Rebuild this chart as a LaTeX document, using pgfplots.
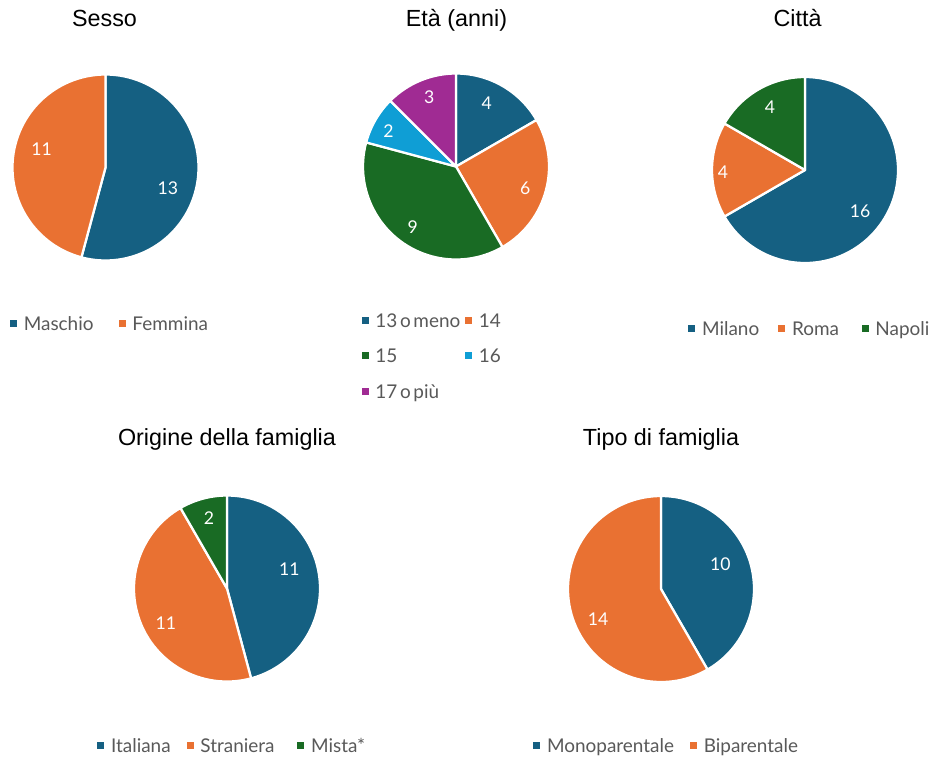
\documentclass[border=0pt]{standalone}
\usepackage{fontspec}
\setmainfont{Liberation Sans}
\newfontfamily\legfont{Lato}[WordSpace=0.55]
\usepackage{pgfplots}
\usepackage{pgfplotstable}
\pgfplotsset{compat=1.18}
\definecolor{cBlue}{HTML}{156082}
\definecolor{cOrange}{HTML}{E97132}
\definecolor{cGreen}{HTML}{196B24}
\definecolor{cLight}{HTML}{0F9ED5}
\definecolor{cPurple}{HTML}{A02B93}
\definecolor{legtext}{HTML}{595959}
\newcommand\labfont{\legfont\fontsize{13.2}{15}\selectfont}
\newcommand\legsize{\legfont\fontsize{14.2}{16}\selectfont}
\newcommand\titsize{\fontsize{17.5}{20}\selectfont}

% val = count, la/lr = label angle (deg) and radius (px), col = colour
\pgfplotstableread{
val la lr col
13 -18.2 65.5 cBlue
11 164 66.3 cOrange
}\tSesso
\pgfplotstableread{
val la lr col
4 64 70 cBlue
6 -17.5 72.4 cOrange
9 234.3 74 cGreen
2 152.3 76 cLight
3 111.2 73.8 cPurple
}\tEta
\pgfplotstableread{
val la lr col
16 -36.5 68.4 cBlue
4 181.2 81.7 cOrange
4 119.2 71.8 cGreen
}\tCitta
\pgfplotstableread{
val la lr col
11 17.2 65 cBlue
11 209.7 70.2 cOrange
2 104.4 72.5 cGreen
}\tOrigine
\pgfplotstableread{
val la lr col
10 22.7 64 cBlue
14 205.6 69.5 cOrange
}\tTipo

\newcommand\drawpie[2]{%
  \pgfplotstablegetrowsof{#1}%
  \pgfmathtruncatemacro\pielast{\pgfplotsretval-1}%
  \def\pietot{0}%
  \pgfplotsforeachungrouped \pii in {0,...,\pielast}{%
    \pgfplotstablegetelem{\pii}{val}\of#1%
    \pgfmathsetmacro\pietot{\pietot+\pgfplotsretval}}%
  \def\piecum{0}%
  \pgfmathsetmacro\pieR{#2*0.75}%
  \pgfplotsforeachungrouped \pii in {0,...,\pielast}{%
    \pgfplotstablegetelem{\pii}{val}\of#1\let\pieval\pgfplotsretval
    \pgfplotstablegetelem{\pii}{col}\of#1\let\piecol\pgfplotsretval
    \pgfmathsetmacro\pieA{90-360*\piecum/\pietot}%
    \pgfmathsetmacro\piecum{\piecum+\pieval}%
    \pgfmathsetmacro\pieB{90-360*\piecum/\pietot}%
    \edef\pietmp{%
      \noexpand\fill[\piecol, draw=white, line width=1.7pt, line join=round]
        (axis cs:0,0) -- ++(\pieA:\pieR pt) arc[start angle=\pieA, end angle=\pieB, radius=\pieR pt] -- cycle;}%
    \pietmp}%
  \pgfplotsforeachungrouped \pii in {0,...,\pielast}{%
    \pgfplotstablegetelem{\pii}{val}\of#1\let\pieval\pgfplotsretval
    \pgfplotstablegetelem{\pii}{la}\of#1\let\piela\pgfplotsretval
    \pgfplotstablegetelem{\pii}{lr}\of#1\let\pielr\pgfplotsretval
    \pgfmathsetmacro\pielx{\pielr/#2*cos(\piela)}%
    \pgfmathsetmacro\piely{\pielr/#2*sin(\piela)}%
    \edef\pietmp{%
      \noexpand\node[white, inner sep=0, font=\noexpand\labfont] at (axis cs:\pielx,\piely) {\pieval};}%
    \pietmp}%
}

\pgfplotsset{pieaxis/.style={anchor=origin, hide axis, scale only axis,
  width=140pt, height=140pt, xmin=-1, xmax=1, ymin=-1, ymax=1, clip=false}}

\newcommand\legitem[4]{%
  \fill[#3] (#1,#2-10.5) rectangle ++(7,7);
  \node[anchor=base west, inner sep=0, font=\legsize, text=legtext] at (#1+13.5,#2) {#4};
}

\begin{document}
\begin{tikzpicture}[x=0.75pt, y=-0.75pt]
\fill[white] (0,0) rectangle (941,758);

% titles
\node[anchor=base, font=\titsize] at (104.5,26.7) {Sesso};
\node[anchor=base, font=\titsize] at (456.5,26.7) {Età (anni)};
\node[anchor=base, font=\titsize] at (797.5,26.7) {Città};
\node[anchor=base, font=\titsize] at (227,445) {Origine della famiglia};
\node[anchor=base, font=\titsize] at (661,445) {Tipo di famiglia};

% pies (positions in pt: px*0.75, y downward)
\begin{axis}[pieaxis, at={({105.5*0.75pt},{-167.5*0.75pt})}]
\drawpie{\tSesso}{93}
\end{axis}
\begin{axis}[pieaxis, at={({456*0.75pt},{-166.5*0.75pt})}]
\drawpie{\tEta}{93}
\end{axis}
\begin{axis}[pieaxis, at={({805*0.75pt},{-170*0.75pt})}]
\drawpie{\tCitta}{93}
\end{axis}
\begin{axis}[pieaxis, at={({227*0.75pt},{-588.5*0.75pt})}]
\drawpie{\tOrigine}{93}
\end{axis}
\begin{axis}[pieaxis, at={({661*0.75pt},{-589*0.75pt})}]
\drawpie{\tTipo}{93}
\end{axis}

% legends
\legitem{10}{330}{cBlue}{Maschio}
\legitem{118.7}{330}{cOrange}{Femmina}

\legitem{361.7}{327}{cBlue}{13 o meno}
\legitem{465}{327}{cOrange}{14}
\legitem{361.7}{362}{cGreen}{15}
\legitem{465}{362}{cLight}{16}
\legitem{361.7}{398.5}{cPurple}{17 o più}

\legitem{688.3}{335}{cBlue}{Milano}
\legitem{778.3}{335}{cOrange}{Roma}
\legitem{861.7}{335}{cGreen}{Napoli}

\legitem{97.3}{752}{cBlue}{Italiana}
\legitem{186.7}{752}{cOrange}{Straniera}
\legitem{297.3}{752}{cGreen}{Mista*}

\legitem{533.3}{752}{cBlue}{Monoparentale}
\legitem{690}{752}{cOrange}{Biparentale}
\end{tikzpicture}
\end{document}
